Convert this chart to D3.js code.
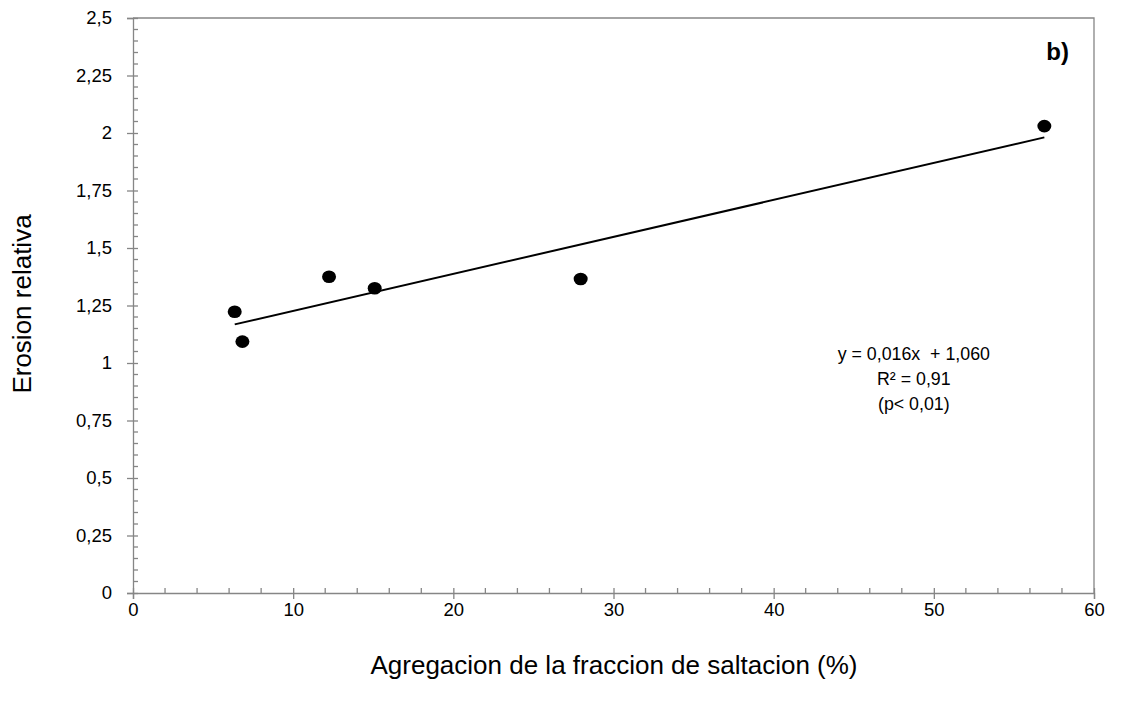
<!DOCTYPE html>
<html>
<head>
<meta charset="utf-8">
<script src="https://cdn.jsdelivr.net/npm/d3@7"></script>
<style>
  body { margin: 0; background: #fff; }
  text { font-family: "Liberation Sans", Arial, sans-serif; }
</style>
</head>
<body>
<svg id="chart"></svg>
<script>
const xValues = [6.35, 6.83, 12.24, 15.09, 27.95, 56.9];
const yValues = [1.223, 1.093, 1.375, 1.325, 1.365, 2.03];
const xTicks = [0, 10, 20, 30, 40, 50, 60];
const yTicks = [0, 0.25, 0.5, 0.75, 1, 1.25, 1.5, 1.75, 2, 2.25, 2.5];
const equationLines = ["y = 0,016x  + 1,060", "R² = 0,91", "(p< 0,01)"];
const panelLabel = "b)";
const xTitle = "Agregacion de la fraccion de saltacion (%)";
const yTitle = "Erosion relativa";

const W = 1123, H = 710;
const margin = { top: 18, right: 29, bottom: 117, left: 133 },
      width = W - margin.left - margin.right,
      height = H - margin.top - margin.bottom;

const svg = d3.select("#chart").attr("width", W).attr("height", H);
const g = svg.append("g").attr("transform", `translate(${margin.left},${margin.top})`);

const x = d3.scaleLinear().domain([0, 60]).range([0, width]);
const y = d3.scaleLinear().domain([0, 2.5]).range([height, 0]);

const axisColor = "#868686";
const fmt = d => String(d).replace(".", ",");

// plot frame (top and right)
g.append("path")
  .attr("d", `M0,0H${width}V${height}`)
  .attr("fill", "none").attr("stroke", axisColor).attr("stroke-width", 1.3);

// minor ticks (inside)
const xMinor = d3.range(0, 60.001, 2).filter(v => v % 10 !== 0);
const yMinor = d3.range(0, 2.5001, 0.05).filter(v => Math.abs(v / 0.25 - Math.round(v / 0.25)) > 1e-6);
g.selectAll(".xminor").data(xMinor).enter().append("line")
  .attr("x1", d => x(d)).attr("x2", d => x(d))
  .attr("y1", height).attr("y2", height - 5)
  .attr("stroke", axisColor).attr("stroke-width", 1.3);
g.selectAll(".yminor").data(yMinor).enter().append("line")
  .attr("x1", 0).attr("x2", 5)
  .attr("y1", d => y(d)).attr("y2", d => y(d))
  .attr("stroke", axisColor).attr("stroke-width", 1.3);

// x axis
const xAxis = g.append("g")
  .attr("transform", `translate(0,${height})`)
  .call(d3.axisBottom(x).tickValues(xTicks).tickFormat(fmt).tickSize(6).tickPadding(4));
xAxis.select(".domain").attr("stroke", axisColor).attr("stroke-width", 1.3);
xAxis.selectAll(".tick line").attr("stroke", axisColor).attr("stroke-width", 1.3).attr("y1", -5);
xAxis.selectAll("text").attr("font-size", 18.5).attr("fill", "#000");

// y axis
const yAxis = g.append("g")
  .call(d3.axisLeft(y).tickValues(yTicks).tickFormat(fmt).tickSize(6).tickPadding(15));
yAxis.select(".domain").attr("stroke", axisColor).attr("stroke-width", 1.3);
yAxis.selectAll(".tick line").attr("stroke", axisColor).attr("stroke-width", 1.3).attr("x1", 5);
yAxis.selectAll("text").attr("font-size", 18.5).attr("fill", "#000");

// linear trend (least squares)
const mx = d3.mean(xValues), my = d3.mean(yValues);
const slope = d3.sum(xValues, (v, i) => (v - mx) * (yValues[i] - my)) / d3.sum(xValues, v => (v - mx) ** 2);
const intercept = my - slope * mx;
const xExt = d3.extent(xValues);
g.append("line")
  .attr("x1", x(xExt[0])).attr("y1", y(intercept + slope * xExt[0]))
  .attr("x2", x(xExt[1])).attr("y2", y(intercept + slope * xExt[1]))
  .attr("stroke", "#000").attr("stroke-width", 2);

// points
g.selectAll(".pt").data(xValues).enter().append("ellipse")
  .attr("cx", d => x(d)).attr("cy", (d, i) => y(yValues[i]))
  .attr("rx", 7).attr("ry", 6.3).attr("fill", "#000");

// equation
const eq = g.append("text").attr("font-size", 17.8).attr("text-anchor", "middle")
  .attr("style", "white-space: pre");
equationLines.forEach((t, i) => {
  eq.append("tspan").attr("x", x(48.75)).attr("y", 342 + i * 25).text(t);
});

// panel label
g.append("text").attr("x", 936).attr("y", 42).attr("font-size", 24)
  .attr("font-weight", "bold").attr("text-anchor", "end").text(panelLabel);

// axis titles
svg.append("text").attr("x", 614).attr("y", 674).attr("text-anchor", "middle")
  .attr("font-size", 26).text(xTitle);
svg.append("text").attr("transform", "translate(31,304) rotate(-90)")
  .attr("text-anchor", "middle").attr("font-size", 26).text(yTitle);
</script>
</body>
</html>
